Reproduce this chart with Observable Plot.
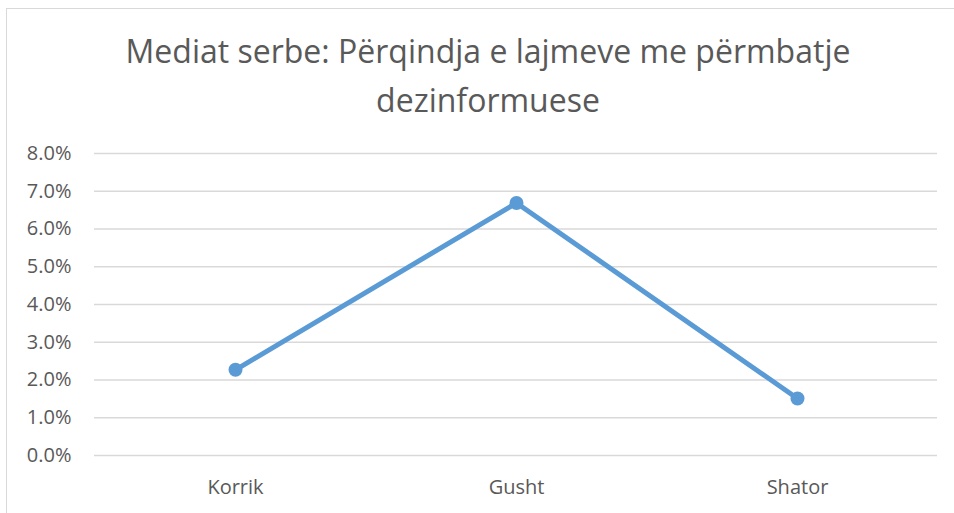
<!DOCTYPE html>
<html>
<head>
<meta charset="utf-8">
<script src="https://cdn.jsdelivr.net/npm/d3@7"></script>
<script src="https://cdn.jsdelivr.net/npm/@observablehq/plot@0.6"></script>
<style>
  html, body { margin: 0; padding: 0; background: #fff; }
  #wrap { position: relative; width: 954px; height: 513px; overflow: hidden; background: #fff; }
  #frame { position: absolute; left: 6px; top: 8px; width: 1000px; height: 600px;
           border-left: 1.5px solid #d9d9d9; border-top: 1.5px solid #d9d9d9; box-sizing: border-box; }
  .title { position: absolute; left: 0px; width: 976px; text-align: center; line-height: 1;
           font-family: "Open Sans", sans-serif; font-weight: 400; font-size: 32px; color: #595959; white-space: nowrap; }
  #chart { position: absolute; left: 0; top: 0; }
</style>
</head>
<body>
<div id="wrap">
  <div id="frame"></div>
  <div id="chart"></div>
  <div class="title" id="t1" style="top:35px;"></div>
  <div class="title" id="t2" style="top:84px;"></div>
</div>
<script>
const titleLines = ["Mediat serbe: Përqindja e lajmeve me përmbatje", "dezinformuese"];
const months = ["Korrik", "Gusht", "Shator"];
const shares = [0.0227, 0.0669, 0.0151];
const yTicks = [0, 0.01, 0.02, 0.03, 0.04, 0.05, 0.06, 0.07, 0.08];

document.getElementById("t1").textContent = titleLines[0];
document.getElementById("t2").textContent = titleLines[1];

const data = months.map((m, i) => ({month: m, value: shares[i]}));
const fmt = d => (d * 100).toFixed(1) + "%";

const chart = Plot.plot({
  width: 954,
  height: 513,
  marginTop: 153,
  marginBottom: 58,
  marginLeft: 94,
  marginRight: 17,
  style: {background: "transparent", fontFamily: "'Open Sans', sans-serif", fontSize: "20px", color: "#595959"},
  x: {type: "point", domain: months, padding: 0.5, label: null},
  y: {domain: [0, 0.08], label: null},
  marks: [
    Plot.ruleY(yTicks, {stroke: "#d9d9d9", strokeWidth: 1.5}),
    Plot.axisY({ticks: yTicks, tickFormat: fmt, tickSize: 0, tickPadding: 23, label: null, fill: "#595959", fontSize: 20}),
    Plot.axisX({tickSize: 0, tickPadding: 24, label: null, fill: "#595959", fontSize: 20}),
    Plot.line(data, {x: "month", y: "value", stroke: "#5b9bd5", strokeWidth: 5, strokeLinejoin: "round"}),
    Plot.dot(data, {x: "month", y: "value", r: 7, fill: "#5b9bd5", stroke: "none"})
  ]
});
document.getElementById("chart").appendChild(chart);
</script>
</body>
</html>
